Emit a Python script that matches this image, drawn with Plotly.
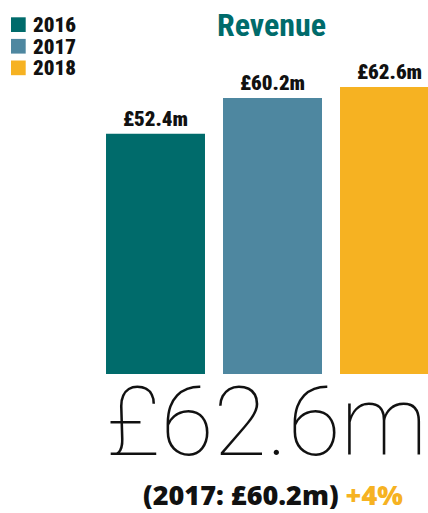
import plotly.graph_objects as go

# Revenue by year (£m)
years = ["2016", "2017", "2018"]
revenue = [52.4, 60.2, 62.6]
colors = ["#006b6b", "#4e87a0", "#f6b222"]
bar_labels = ["£52.4m", "£60.2m", "£62.6m"]

headline = "£62.6m"
comparison = "(2017: £60.2m)"
growth = "+4%"

W, H = 428, 513
ML, MR, MT, MB = 97, 0, 53, 139
Y_MAX = 70

def px_x(p):
    return (p - ML) / (W - ML - MR)

def px_y(p):
    return (H - MB - p) / (H - MT - MB)

CONDENSED_BLACK = "Noto Sans Condensed Black, Noto Sans Condensed, Roboto Condensed, Liberation Sans, sans-serif"
CONDENSED = "Noto Sans Condensed, Roboto Condensed, Lato, Liberation Sans, sans-serif"
BLACK = "Noto Sans Black, Noto Sans, Liberation Sans, Arial, sans-serif"

fig = go.Figure()
for yr, val, col, lab in zip(years, revenue, colors, bar_labels):
    fig.add_trace(go.Bar(
        x=[yr], y=[val], name=yr,
        marker=dict(color=col, line=dict(width=0)),
        text=[lab], textposition="outside", cliponaxis=False,
        textfont=dict(family=CONDENSED_BLACK, size=21, color="#111111", weight=900),
    ))

fig.update_layout(
    width=W, height=H,
    margin=dict(l=ML, r=MR, t=MT, b=MB),
    paper_bgcolor="white", plot_bgcolor="white",
    barmode="overlay", bargap=0.154,
    xaxis=dict(visible=False, range=[-0.5, 2.329], type="category"),
    yaxis=dict(visible=False, range=[0, Y_MAX]),
    showlegend=False,
)

# Legend: colour swatches with year labels, top-left corner
for i, (yr, col) in enumerate(zip(years, colors)):
    top = 17.3 + i * 21.6
    fig.add_shape(
        type="rect", xref="paper", yref="paper",
        x0=px_x(11), x1=px_x(25.7), y0=px_y(top), y1=px_y(top + 14.7),
        fillcolor=col, line=dict(width=0),
    )
    fig.add_annotation(
        text=yr, xref="paper", yref="paper",
        x=px_x(31), y=px_y(top + 7.6), xanchor="left", yanchor="middle",
        height=20, showarrow=False,
        font=dict(family=CONDENSED_BLACK, size=21, color="#111111", weight=900),
    )

fig.add_annotation(
    text="Revenue", xref="paper", yref="paper",
    x=px_x(271), y=px_y(25), xanchor="center", yanchor="middle",
    showarrow=False,
    font=dict(family=CONDENSED, size=32, color="#006b6b", weight="bold"),
)

fig.add_annotation(
    text=headline, xref="paper", yref="paper",
    x=px_x(104), y=px_y(422), xanchor="left", yanchor="middle",
    showarrow=False,
    font=dict(family="Roboto, Lato, sans-serif", size=97, color="#111111", weight=100),
)

fig.add_annotation(
    text=f"{comparison} <span style='color:#f6b222'>{growth}</span>",
    xref="paper", yref="paper",
    x=px_x(273), y=px_y(494.5), xanchor="center", yanchor="middle",
    showarrow=False,
    font=dict(family=BLACK, size=27, color="#111111", weight=900),
)

fig.write_html("out.html")
